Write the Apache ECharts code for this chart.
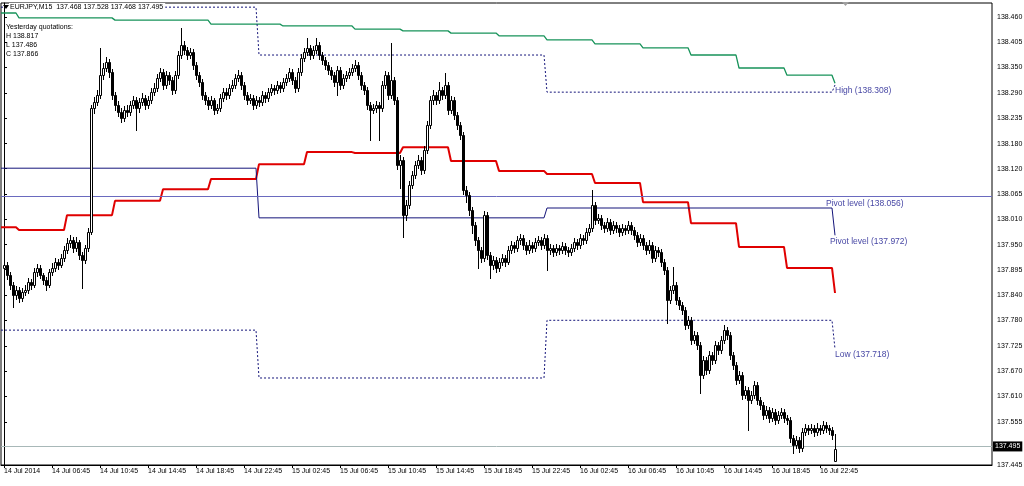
<!DOCTYPE html>
<html><head><meta charset="utf-8">
<script src="https://cdn.jsdelivr.net/npm/echarts@6/dist/echarts.min.js"></script>
<style>html,body{margin:0;padding:0;background:#fff;overflow:hidden}#c{width:1024px;height:486px}</style>
</head><body><div id="c"></div>
<script>
// ---- OHLC data, EURJPY M15 (bar index 0 = 14 Jul 02:45) ----
const opens = [
137.900,137.906,137.883,137.861,137.839,137.850,137.832,137.846,137.850,137.868,
137.861,137.890,137.899,137.883,137.872,137.861,137.890,137.899,137.913,137.906,
137.921,137.939,137.954,137.961,137.943,137.957,137.928,137.917,137.943,137.980,
138.256,138.270,138.286,138.330,138.346,138.360,138.337,138.286,138.263,138.248,
138.234,138.252,138.248,138.263,138.274,138.256,138.270,138.279,138.263,138.274,
138.293,138.301,138.323,138.337,138.308,138.330,138.319,138.297,138.330,138.375,
138.398,138.386,138.375,138.382,138.353,138.330,138.315,138.286,138.274,138.263,
138.274,138.252,138.256,138.279,138.293,138.286,138.301,138.308,138.323,138.330,
138.308,138.286,138.274,138.279,138.263,138.274,138.270,138.286,138.279,138.293,
138.301,138.297,138.308,138.301,138.315,138.323,138.337,138.319,138.301,138.337,
138.368,138.382,138.390,138.375,138.386,138.398,138.375,138.364,138.353,138.341,
138.330,138.315,138.341,138.308,138.323,138.330,138.337,138.346,138.353,138.330,
138.308,138.297,138.263,138.252,138.256,138.263,138.256,138.308,138.330,138.286,
138.319,138.274,138.129,138.140,138.017,138.040,138.085,138.107,138.129,138.140,
138.118,138.163,138.219,138.274,138.286,138.274,138.297,138.286,138.308,138.252,
138.274,138.241,138.219,138.196,138.073,138.062,138.028,137.995,137.961,137.939,
137.921,138.017,137.928,137.906,137.917,137.899,137.913,137.921,137.913,137.939,
137.950,137.943,137.961,137.965,137.950,137.939,137.950,137.943,137.957,137.961,
137.950,137.965,137.939,137.943,137.935,137.943,137.939,137.948,137.939,137.935,
137.943,137.957,137.950,137.965,137.961,137.980,137.988,138.040,138.006,138.010,
137.995,137.988,138.002,137.984,137.995,137.988,137.980,137.988,137.984,137.995,
137.984,137.973,137.957,137.965,137.950,137.939,137.950,137.921,137.939,137.935,
137.913,137.894,137.827,137.850,137.861,137.827,137.816,137.805,137.771,137.782,
137.738,137.749,137.726,137.660,137.693,137.671,137.704,137.693,137.726,137.715,
137.738,137.760,137.749,137.704,137.682,137.648,137.660,137.615,137.626,137.604,
137.615,137.637,137.604,137.593,137.570,137.581,137.563,137.577,137.559,137.570,
137.577,137.563,137.559,137.518,137.503,137.514,137.496,137.533,137.541,137.537,
137.541,137.533,137.541,137.537,137.548,137.541,137.537,137.468];
const highs = [
137.921,137.913,137.890,137.868,137.859,137.857,137.855,137.861,137.877,137.875,
137.899,137.908,137.906,137.888,137.879,137.897,137.910,137.921,137.919,137.930,
137.948,137.966,137.972,137.968,137.968,137.961,137.935,137.950,137.988,138.263,
138.281,138.297,138.390,138.357,138.370,138.366,138.344,138.293,138.272,138.257,
138.261,138.263,138.272,138.283,138.281,138.279,138.290,138.286,138.283,138.301,
138.312,138.332,138.346,138.344,138.339,138.337,138.326,138.339,138.384,138.435,
138.407,138.393,138.391,138.388,138.360,138.337,138.321,138.293,138.281,138.283,
138.279,138.266,138.288,138.301,138.302,138.310,138.319,138.332,138.341,138.337,
138.315,138.293,138.288,138.286,138.283,138.281,138.295,138.293,138.301,138.310,
138.308,138.317,138.315,138.324,138.332,138.346,138.344,138.326,138.346,138.377,
138.391,138.413,138.397,138.395,138.413,138.404,138.382,138.371,138.360,138.348,
138.337,138.350,138.348,138.332,138.339,138.346,138.355,138.364,138.360,138.337,
138.315,138.304,138.270,138.266,138.272,138.270,138.317,138.339,138.337,138.402,
138.326,138.281,138.151,138.147,138.051,138.094,138.116,138.138,138.151,138.147,
138.172,138.228,138.283,138.297,138.293,138.315,138.304,138.335,138.315,138.283,
138.281,138.248,138.226,138.203,138.082,138.069,138.035,138.002,137.968,137.946,
138.026,138.024,137.935,137.926,137.924,137.921,137.930,137.928,137.948,137.959,
137.957,137.970,137.975,137.972,137.957,137.961,137.957,137.966,137.970,137.968,
137.975,137.972,137.952,137.950,137.952,137.950,137.957,137.955,137.946,137.952,
137.966,137.963,137.975,137.972,137.988,137.997,138.073,138.046,138.019,138.017,
138.002,138.011,138.008,138.004,138.002,137.995,137.997,137.995,138.004,138.002,
137.991,137.980,137.975,137.972,137.957,137.961,137.957,137.948,137.946,137.941,
137.920,137.901,137.859,137.901,137.868,137.834,137.823,137.812,137.791,137.789,
137.758,137.756,137.733,137.702,137.700,137.713,137.711,137.735,137.733,137.747,
137.771,137.767,137.756,137.711,137.689,137.669,137.667,137.635,137.633,137.624,
137.646,137.644,137.611,137.600,137.590,137.588,137.586,137.584,137.579,137.586,
137.584,137.570,137.566,137.525,137.523,137.521,137.541,137.550,137.548,137.550,
137.548,137.552,137.548,137.557,137.555,137.548,137.544,137.528];
const lows = [
137.866,137.874,137.852,137.812,137.830,137.823,137.826,137.839,137.843,137.852,
137.857,137.881,137.876,137.863,137.850,137.857,137.884,137.892,137.897,137.901,
137.915,137.932,137.946,137.935,137.937,137.919,137.855,137.910,137.937,137.975,
138.245,138.263,138.279,138.321,138.339,138.326,138.277,138.252,138.239,138.225,
138.228,138.239,138.241,138.256,138.207,138.248,138.263,138.254,138.257,138.268,
138.286,138.295,138.316,138.299,138.301,138.310,138.288,138.290,138.323,138.368,
138.377,138.366,138.368,138.344,138.321,138.306,138.277,138.265,138.254,138.256,
138.243,138.245,138.250,138.272,138.277,138.279,138.294,138.301,138.316,138.299,
138.277,138.265,138.268,138.254,138.257,138.261,138.263,138.270,138.272,138.286,
138.288,138.290,138.292,138.295,138.308,138.317,138.310,138.292,138.295,138.330,
138.361,138.375,138.366,138.368,138.379,138.366,138.355,138.344,138.332,138.321,
138.306,138.286,138.299,138.301,138.316,138.323,138.330,138.339,138.321,138.299,
138.288,138.254,138.185,138.245,138.248,138.185,138.250,138.301,138.277,138.279,
138.265,138.120,138.078,137.968,138.006,138.033,138.078,138.100,138.122,138.109,
138.111,138.156,138.212,138.266,138.265,138.268,138.277,138.279,138.243,138.245,
138.232,138.210,138.187,138.064,138.046,138.017,137.977,137.950,137.899,137.912,
137.915,137.919,137.876,137.897,137.890,137.892,137.906,137.904,137.908,137.932,
137.935,137.937,137.952,137.941,137.930,137.932,137.935,137.937,137.950,137.941,
137.943,137.894,137.930,137.926,137.928,137.930,137.932,137.930,137.926,137.928,
137.937,137.941,137.943,137.952,137.955,137.973,137.982,137.997,137.999,137.986,
137.979,137.982,137.975,137.977,137.979,137.971,137.973,137.975,137.977,137.975,
137.964,137.948,137.950,137.941,137.930,137.932,137.912,137.915,137.926,137.904,
137.885,137.776,137.820,137.843,137.818,137.807,137.796,137.762,137.764,137.729,
137.731,137.717,137.619,137.653,137.662,137.664,137.684,137.686,137.706,137.708,
137.731,137.740,137.695,137.673,137.639,137.641,137.606,137.608,137.537,137.597,
137.608,137.595,137.584,137.561,137.563,137.554,137.556,137.550,137.552,137.563,
137.554,137.550,137.509,137.485,137.496,137.487,137.489,137.526,137.528,137.530,
137.524,137.526,137.528,137.530,137.532,137.528,137.517,137.468];
const closes = [
137.906,137.883,137.861,137.839,137.850,137.832,137.846,137.850,137.868,137.861,
137.890,137.899,137.883,137.872,137.861,137.890,137.899,137.913,137.906,137.921,
137.939,137.954,137.961,137.943,137.957,137.928,137.917,137.943,137.980,138.256,
138.270,138.286,138.330,138.346,138.360,138.337,138.286,138.263,138.248,138.234,
138.252,138.248,138.263,138.274,138.256,138.270,138.279,138.263,138.274,138.293,
138.301,138.323,138.337,138.308,138.330,138.319,138.297,138.330,138.375,138.398,
138.386,138.375,138.382,138.353,138.330,138.315,138.286,138.274,138.263,138.274,
138.252,138.256,138.279,138.293,138.286,138.301,138.308,138.323,138.330,138.308,
138.286,138.274,138.279,138.263,138.274,138.270,138.286,138.279,138.293,138.301,
138.297,138.308,138.301,138.315,138.323,138.337,138.319,138.301,138.337,138.368,
138.382,138.390,138.375,138.386,138.398,138.375,138.364,138.353,138.341,138.330,
138.315,138.341,138.308,138.323,138.330,138.337,138.346,138.353,138.330,138.308,
138.297,138.263,138.252,138.256,138.263,138.256,138.308,138.330,138.286,138.319,
138.274,138.129,138.140,138.017,138.040,138.085,138.107,138.129,138.140,138.118,
138.163,138.219,138.274,138.286,138.274,138.297,138.286,138.308,138.252,138.274,
138.241,138.219,138.196,138.073,138.062,138.028,137.995,137.961,137.939,137.921,
138.017,137.928,137.906,137.917,137.899,137.913,137.921,137.913,137.939,137.950,
137.943,137.961,137.965,137.950,137.939,137.950,137.943,137.957,137.961,137.950,
137.965,137.939,137.943,137.935,137.943,137.939,137.948,137.939,137.935,137.943,
137.957,137.950,137.965,137.961,137.980,137.988,138.040,138.006,138.010,137.995,
137.988,138.002,137.984,137.995,137.988,137.980,137.988,137.984,137.995,137.984,
137.973,137.957,137.965,137.950,137.939,137.950,137.921,137.939,137.935,137.913,
137.894,137.827,137.850,137.861,137.827,137.816,137.805,137.771,137.782,137.738,
137.749,137.726,137.660,137.693,137.671,137.704,137.693,137.726,137.715,137.738,
137.760,137.749,137.704,137.682,137.648,137.660,137.615,137.626,137.604,137.615,
137.637,137.604,137.593,137.570,137.581,137.563,137.577,137.559,137.570,137.577,
137.563,137.559,137.518,137.503,137.514,137.496,137.533,137.541,137.537,137.541,
137.533,137.541,137.537,137.548,137.541,137.537,137.526,137.495];

// ---- daily levels (day starts at bar index) ----
const dayStarts   = [-1, 85, 181, 277];
const pivotLevels = [138.122, 138.011, 138.033, 137.972];
const highLevels  = [138.482, 138.375, 138.292, 138.308];
const lowLevels   = [137.760, 137.653, 137.782, 137.718];
// ---- H4 stepped red line ----
const redStarts = [-1, 5, 21, 37, 53, 69, 85, 101, 117, 133, 149, 165, 181, 197, 213, 229, 245, 261, 277];
const redLevels = [137.990, 137.984, 138.017, 138.049, 138.075, 138.098, 138.131, 138.158, 138.156, 138.169,
                   138.138, 138.116, 138.109, 138.089, 138.046, 137.999, 137.946, 137.899, 137.843];
// ---- stepped green line ----
const greenStarts = [-1, 5, 37, 69, 93, 117, 133, 149, 165, 181, 197, 213, 229, 245, 261, 277];
const greenLevels = [138.469, 138.458, 138.453, 138.444, 138.440, 138.433, 138.429, 138.424, 138.418,
                     138.409, 138.400, 138.391, 138.375, 138.346, 138.330, 138.312];
const weeklyPivot = 138.056;
const currentPrice = 137.495;

// ---- axis ticks ----
const xTickIdx = [0,16,32,48,64,80,96,112,128,144,160,176,192,208,224,240,256,272];
const xTickLabels = ['14 Jul 2014','14 Jul 06:45','14 Jul 10:45','14 Jul 14:45','14 Jul 18:45','14 Jul 22:45',
  '15 Jul 02:45','15 Jul 06:45','15 Jul 10:45','15 Jul 14:45','15 Jul 18:45','15 Jul 22:45',
  '16 Jul 02:45','16 Jul 06:45','16 Jul 10:45','16 Jul 14:45','16 Jul 18:45','16 Jul 22:45'];
const yTickValues = [138.460,138.403,138.347,138.290,138.234,138.177,138.121,138.064,138.008,137.951,
  137.895,137.838,137.782,137.725,137.669,137.612,137.555,137.459];
const yTickLabels = ['138.460','138.405','138.350','138.290','138.235','138.180','138.120','138.065','138.010','137.950',
  '137.895','137.840','137.780','137.725','137.670','137.610','137.555','137.445'];

// ---- texts ----
const titleText = 'EURJPY,M15  137.468 137.528 137.468 137.495';
const infoLines = ['Yesterday quotations:', 'H 138.817', 'L 137.486', 'C 137.866'];
const levelLabelText = ['Pivot level (138.056)', 'Pivot level (137.972)', 'High (138.308)', 'Low (137.718)'];
const levelLabelX = [274, 275.3, 277, 277];
const levelLabelY = [138.056, 137.972, 138.308, 137.718];

const FONT = "'Liberation Sans',Arial,sans-serif";
const NAVY = '#14147a';

function stepLine(starts, levels, lastBar) {
  const pts = [];
  for (let k = 0; k < starts.length; k++) {
    const s = starts[k];
    const e = k + 1 < starts.length ? starts[k + 1] - 1 : lastBar;
    for (let i = s; i <= e; i++) pts.push([i, levels[k]]);
  }
  return pts;
}
const lastBar = closes.length - 1;
const candleData = closes.map((c, i) => [i, opens[i], highs[i], lows[i], c]);

const chart = echarts.init(document.getElementById('c'), null, { renderer: 'canvas' });
const option = {
  animation: false,
  backgroundColor: '#fff',
  grid: { left: 1, top: 3, width: 991, height: 462, containLabel: false, outerBoundsMode: 'none',
    show: true, borderColor: '#000', borderWidth: 1, backgroundColor: '#fff' },
  xAxis: {
    type: 'value', min: -1, max: 329.333,
    axisLine: { show: true, lineStyle: { color: '#000', width: 1 } },
    splitLine: { show: false },
    axisTick: { show: true, customValues: xTickIdx, length: 3, lineStyle: { color: '#000' } },
    axisLabel: { customValues: xTickIdx, formatter: v => xTickLabels[xTickIdx.indexOf(v)] || '',
      align: 'left', margin: 3, fontSize: 7, color: '#000', fontFamily: FONT }
  },
  yAxis: {
    type: 'value', position: 'right', min: 137.4585, max: 138.4913,
    axisLine: { show: true, lineStyle: { color: '#000', width: 1 } },
    splitLine: { show: false },
    axisTick: { show: true, customValues: yTickValues, length: 3, lineStyle: { color: '#000' } },
    axisLabel: { customValues: yTickValues,
      formatter: v => { const k = yTickValues.findIndex(t => Math.abs(t - v) < 1e-6); return k >= 0 ? yTickLabels[k] : ''; },
      margin: 5, fontSize: 7, color: '#000', fontFamily: FONT, verticalAlign: 'middle' }
  },
  graphic: [
    { type: 'text', x: 9, y: 3, style: { text: titleText, fontSize: 7, fontFamily: FONT, fill: '#000',
      verticalAlign: 'top', backgroundColor: '#fff', padding: [1, 2, 1, 1] }, z: 100 },
    { type: 'polygon', shape: { points: [[3, 5], [9, 5], [6, 9]] }, style: { fill: '#000' }, z: 101 },
    ...infoLines.map((t, k) => ({ type: 'text', x: 6, y: 24 + 9 * k,
      style: { text: t, fontSize: 7, fontFamily: FONT, fill: '#000', verticalAlign: 'top' }, z: 100 })),
    { type: 'polygon', shape: { points: [[842, 2], [849, 2], [845.5, 6]] }, style: { fill: '#a0a0a0' }, z: 100 }
  ],
  series: [
    { type: 'line', name: 'green', data: stepLine(greenStarts, greenLevels, lastBar), symbol: 'none',
      lineStyle: { color: '#17935a', width: 1.3 }, z: 2 },
    { type: 'line', name: 'red', data: stepLine(redStarts, redLevels, lastBar), symbol: 'none',
      lineStyle: { color: '#e00000', width: 2 }, z: 2 },
    { type: 'line', name: 'dayHigh', data: stepLine(dayStarts, highLevels, lastBar), symbol: 'none',
      lineStyle: { color: NAVY, width: 1, type: [2, 2] }, z: 2 },
    { type: 'line', name: 'dayLow', data: stepLine(dayStarts, lowLevels, lastBar), symbol: 'none',
      lineStyle: { color: NAVY, width: 1, type: [2, 2] }, z: 2 },
    { type: 'line', name: 'pivot', data: stepLine(dayStarts, pivotLevels, lastBar), symbol: 'none',
      lineStyle: { color: NAVY, width: 1 }, z: 2,
      markLine: { silent: true, symbol: 'none', animation: false,
        data: [
          { yAxis: weeklyPivot, lineStyle: { color: '#6a6abf', width: 1, type: 'solid' }, label: { show: false } },
          { yAxis: currentPrice, lineStyle: { color: '#a8b8b8', width: 1, type: 'solid' },
            label: { show: true, position: 'end', distance: 1, formatter: currentPrice.toFixed(3),
              backgroundColor: '#000', color: '#fff', fontSize: 7, fontFamily: FONT, padding: [2, 2, 1, 2] } }
        ] } },
    { type: 'custom', name: 'candles', data: candleData, encode: { x: 0, y: [1, 2, 3, 4] }, z: 5, clip: true,
      renderItem: function (params, api) {
        const i = api.value(0), o = api.value(1), h = api.value(2), l = api.value(3), c = api.value(4);
        const pO = api.coord([i, o]), pC = api.coord([i, c]), pH = api.coord([i, h]), pL = api.coord([i, l]);
        const x = Math.round(pO[0]) + 0.5;
        const top = Math.round(Math.min(pO[1], pC[1])) + 0.5;
        const bot = Math.round(Math.max(pO[1], pC[1])) + 0.5;
        const bull = c > o;
        return { type: 'group', children: [
          { type: 'line', shape: { x1: x, y1: Math.round(pH[1]), x2: x, y2: Math.round(pL[1]) + 1 },
            style: { stroke: '#000', lineWidth: 1 } },
          { type: 'rect', shape: { x: x - 1, y: top, width: 2, height: Math.max(bot - top, 0) },
            style: { fill: bull ? '#fff' : '#000', stroke: '#000', lineWidth: 1 } }
        ] };
      } },
    { type: 'scatter', name: 'levelLabels', symbolSize: 0, z: 6,
      data: levelLabelText.map((t, k) => ({ value: [levelLabelX[k], levelLabelY[k]], name: t })),
      label: { show: true, position: 'right', distance: 0, offset: [0, 6], formatter: p => p.name,
        color: '#10108a', fontSize: 8.5, fontFamily: FONT } }
  ]
};
chart.setOption(option);
</script>
</body></html>
